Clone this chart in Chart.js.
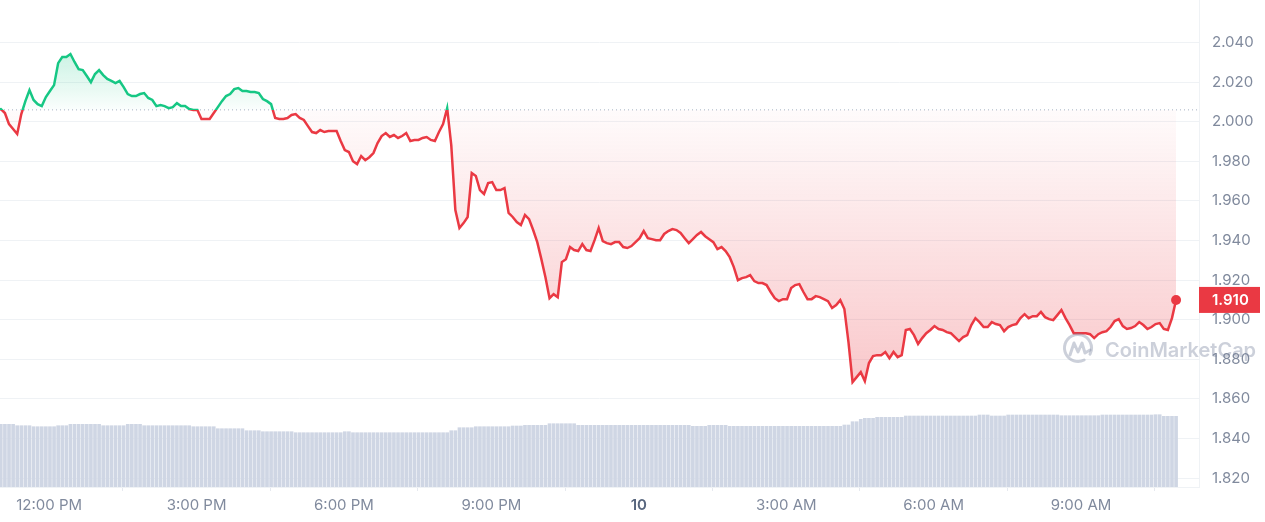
<!DOCTYPE html>
<html>
<head>
<meta charset="utf-8">
<script src="https://cdn.jsdelivr.net/npm/chart.js@4.4.1/dist/chart.umd.min.js"></script>
<style>
  html, body { margin: 0; padding: 0; background: #fff; }
  #wrap { width: 1265px; height: 522px; }
</style>
</head>
<body>
<div id="wrap"><canvas id="price"></canvas></div>
<script>
// 5 minute samples, time in minutes relative to 12:00 PM of the 9th
const startMinute = -64;
const stepMinutes = 5;

const prices = [
  2.0060, 2.0064, 2.0044, 1.9988, 1.9963, 1.9938, 2.0039, 2.0104, 2.0160, 2.0110, 2.0089, 2.0079,
  2.0125, 2.0155, 2.0185, 2.0296, 2.0327, 2.0327, 2.0342, 2.0302, 2.0266, 2.0261, 2.0231, 2.0200,
  2.0241, 2.0261, 2.0236, 2.0216, 2.0206, 2.0195, 2.0206, 2.0175, 2.0140, 2.0130, 2.0130, 2.0140,
  2.0145, 2.0120, 2.0110, 2.0079, 2.0084, 2.0079, 2.0069, 2.0074, 2.0094, 2.0079, 2.0079, 2.0064,
  2.0059, 2.0059, 2.0014, 2.0014, 2.0014, 2.0044, 2.0074, 2.0104, 2.0130, 2.0140, 2.0165, 2.0170,
  2.0155, 2.0155, 2.0150, 2.0150, 2.0145, 2.0115, 2.0104, 2.0089, 2.0019, 2.0014, 2.0014, 2.0019,
  2.0034, 2.0039, 2.0019, 2.0009, 1.9978, 1.9948, 1.9943, 1.9958, 1.9948, 1.9953, 1.9953, 1.9953,
  1.9903, 1.9857, 1.9847, 1.9801, 1.9786, 1.9827, 1.9806, 1.9821, 1.9842, 1.9892, 1.9928, 1.9943,
  1.9923, 1.9933, 1.9918, 1.9928, 1.9943, 1.9903, 1.9908, 1.9908, 1.9918, 1.9923, 1.9908, 1.9903,
  1.9948, 1.9988, 2.0069, 1.9882, 1.9554, 1.9463, 1.9488, 1.9519, 1.9741, 1.9726, 1.9655, 1.9635,
  1.9690, 1.9695, 1.9655, 1.9655, 1.9665, 1.9539, 1.9519, 1.9493, 1.9478, 1.9529, 1.9508, 1.9453,
  1.9392, 1.9306, 1.9215, 1.9109, 1.9129, 1.9114, 1.9291, 1.9306, 1.9367, 1.9352, 1.9347, 1.9382,
  1.9352, 1.9347, 1.9402, 1.9463, 1.9397, 1.9387, 1.9382, 1.9392, 1.9392, 1.9367, 1.9362, 1.9372,
  1.9392, 1.9412, 1.9448, 1.9412, 1.9407, 1.9402, 1.9402, 1.9433, 1.9448, 1.9458, 1.9453, 1.9438,
  1.9412, 1.9387, 1.9407, 1.9428, 1.9443, 1.9422, 1.9407, 1.9392, 1.9357, 1.9367, 1.9347, 1.9316,
  1.9266, 1.9200, 1.9210, 1.9215, 1.9225, 1.9195, 1.9185, 1.9185, 1.9175, 1.9140, 1.9109, 1.9094,
  1.9104, 1.9104, 1.9160, 1.9175, 1.9180, 1.9140, 1.9104, 1.9104, 1.9119, 1.9114, 1.9104, 1.9094,
  1.9059, 1.9074, 1.9099, 1.9054, 1.8887, 1.8685, 1.8710, 1.8735, 1.8690, 1.8781, 1.8816, 1.8821,
  1.8821, 1.8837, 1.8806, 1.8837, 1.8811, 1.8821, 1.8948, 1.8953, 1.8922, 1.8877, 1.8907, 1.8932,
  1.8948, 1.8968, 1.8953, 1.8948, 1.8937, 1.8932, 1.8912, 1.8892, 1.8912, 1.8922, 1.8973, 1.9008,
  1.8988, 1.8963, 1.8963, 1.8988, 1.8978, 1.8973, 1.8942, 1.8963, 1.8973, 1.8978, 1.9008, 1.9028,
  1.9008, 1.9018, 1.9018, 1.9039, 1.9013, 1.9003, 1.8998, 1.9023, 1.9049, 1.9008, 1.8973, 1.8932,
  1.8932, 1.8932, 1.8932, 1.8927, 1.8907, 1.8927, 1.8937, 1.8942, 1.8963, 1.8993, 1.9003, 1.8968,
  1.8953, 1.8958, 1.8968, 1.8988, 1.8973, 1.8953, 1.8963, 1.8978, 1.8983, 1.8953, 1.8948, 1.9008,
  1.9100
];

// volume, relative units (24h rolling, same 5 minute steps)
const volumes = [
  6.27, 6.27, 6.27, 6.27, 6.27, 6.13, 6.13, 6.13, 6.13, 6.03, 6.03, 6.03,
  6.03, 6.03, 6.03, 6.13, 6.13, 6.13, 6.27, 6.27, 6.27, 6.27, 6.27, 6.27,
  6.27, 6.27, 6.13, 6.13, 6.13, 6.13, 6.13, 6.13, 6.27, 6.27, 6.27, 6.27,
  6.13, 6.13, 6.13, 6.13, 6.13, 6.13, 6.13, 6.13, 6.13, 6.13, 6.13, 6.13,
  6.03, 6.03, 6.03, 6.03, 6.03, 6.03, 5.83, 5.83, 5.83, 5.83, 5.83, 5.83,
  5.83, 5.63, 5.63, 5.63, 5.63, 5.53, 5.53, 5.53, 5.53, 5.53, 5.53, 5.53,
  5.53, 5.43, 5.43, 5.43, 5.43, 5.43, 5.43, 5.43, 5.43, 5.43, 5.43, 5.43,
  5.43, 5.53, 5.53, 5.43, 5.43, 5.43, 5.43, 5.43, 5.43, 5.43, 5.43, 5.43,
  5.43, 5.43, 5.43, 5.43, 5.43, 5.43, 5.43, 5.43, 5.43, 5.43, 5.43, 5.43,
  5.43, 5.43, 5.43, 5.63, 5.63, 5.93, 5.93, 5.93, 5.93, 6.03, 6.03, 6.03,
  6.03, 6.03, 6.03, 6.03, 6.03, 6.03, 6.10, 6.10, 6.10, 6.17, 6.17, 6.17,
  6.17, 6.17, 6.17, 6.33, 6.33, 6.33, 6.33, 6.33, 6.33, 6.33, 6.17, 6.17,
  6.17, 6.17, 6.17, 6.17, 6.17, 6.17, 6.17, 6.17, 6.17, 6.17, 6.17, 6.17,
  6.17, 6.17, 6.17, 6.17, 6.17, 6.17, 6.17, 6.17, 6.17, 6.17, 6.17, 6.17,
  6.17, 6.17, 6.07, 6.07, 6.07, 6.07, 6.17, 6.17, 6.17, 6.17, 6.17, 6.07,
  6.07, 6.07, 6.07, 6.07, 6.07, 6.07, 6.07, 6.07, 6.07, 6.07, 6.07, 6.07,
  6.07, 6.07, 6.07, 6.07, 6.07, 6.07, 6.07, 6.07, 6.07, 6.07, 6.07, 6.07,
  6.07, 6.07, 6.07, 6.20, 6.20, 6.53, 6.53, 6.77, 6.87, 6.87, 6.87, 6.97,
  6.97, 6.97, 6.97, 6.97, 6.97, 6.97, 7.10, 7.10, 7.10, 7.10, 7.10, 7.10,
  7.10, 7.10, 7.10, 7.10, 7.10, 7.10, 7.10, 7.10, 7.10, 7.10, 7.10, 7.10,
  7.20, 7.20, 7.20, 7.10, 7.10, 7.10, 7.10, 7.20, 7.20, 7.20, 7.20, 7.20,
  7.20, 7.20, 7.20, 7.20, 7.20, 7.20, 7.20, 7.20, 7.13, 7.13, 7.13, 7.13,
  7.13, 7.13, 7.13, 7.13, 7.13, 7.13, 7.20, 7.20, 7.20, 7.20, 7.20, 7.20,
  7.20, 7.20, 7.20, 7.20, 7.20, 7.20, 7.20, 7.23, 7.23, 7.07, 7.07, 7.07,
  7.07
];

const openPrice = 2.006;
const yTicks = [1.82, 1.84, 1.86, 1.88, 1.90, 1.92, 1.94, 1.96, 1.98, 2.00, 2.02, 2.04];
const xTicks = [0, 180, 360, 540, 720, 900, 1080, 1260];
const xTickLabels = ['12:00 PM', '3:00 PM', '6:00 PM', '9:00 PM', '10', '3:00 AM', '6:00 AM', '9:00 AM'];

const GREEN = '#16c784';
const RED = '#ea3943';
const LABEL = '#808a9d';

const pricePoints = prices.map((p, i) => ({ x: startMinute + i * stepMinutes, y: p }));
const volumePoints = volumes.map((v, i) => ({ x: startMinute + i * stepMinutes, y: v }));
const xMin = -60;
const xMax = 1404;

// hard split of colour at the opening price
function lineGradient(chart) {
	const { ctx, chartArea, scales } = chart;
	if (!chartArea) return RED;
	const top = chartArea.top;
	const bottom = chartArea.bottom;
	const base = scales.y.getPixelForValue(openPrice);
	const f = Math.min(Math.max((base - top) / (bottom - top), 0), 1);
	const g = ctx.createLinearGradient(0, top, 0, bottom);
	g.addColorStop(0, GREEN);
	g.addColorStop(f, GREEN);
	g.addColorStop(f, RED);
	g.addColorStop(1, RED);
	return g;
}

function fillGradient(chart) {
	const { ctx, chartArea, scales } = chart;
	if (!chartArea) return 'rgba(234,57,67,0.1)';
	const hi = scales.y.getPixelForValue(Math.max(...prices));
	const lo = scales.y.getPixelForValue(Math.min(...prices));
	const base = scales.y.getPixelForValue(openPrice);
	const f = (base - hi) / (lo - hi);
	const g = ctx.createLinearGradient(0, hi, 0, lo);
	g.addColorStop(0, 'rgba(22,199,132,0.22)');
	g.addColorStop(f, 'rgba(22,199,132,0.02)');
	g.addColorStop(f, 'rgba(234,57,67,0.02)');
	g.addColorStop(1, 'rgba(234,57,67,0.28)');
	return g;
}

// CoinMarketCap watermark
const watermark = {
	id: 'watermark',
	afterDraw(chart) {
		const { ctx, chartArea } = chart;
		const cx = chartArea.right - 121;
		const cy = chartArea.bottom - 139;
		ctx.save();
		ctx.strokeStyle = 'rgba(120,132,158,0.38)';
		ctx.fillStyle = 'rgba(120,132,158,0.38)';
		ctx.lineWidth = 3;
		ctx.lineCap = 'round';
		ctx.lineJoin = 'round';
		ctx.beginPath();
		ctx.arc(cx, cy, 13.5, Math.PI * 0.35, Math.PI * 2.15);
		ctx.stroke();
		ctx.beginPath();
		ctx.moveTo(cx - 8, cy + 7);
		ctx.lineTo(cx - 4, cy - 5);
		ctx.lineTo(cx, cy + 4);
		ctx.lineTo(cx + 4, cy - 5);
		ctx.lineTo(cx + 7, cy + 5);
		ctx.lineTo(cx + 12, cy + 2);
		ctx.stroke();
		ctx.font = '600 20px Inter';
		ctx.textBaseline = 'middle';
		ctx.fillText('CoinMarketCap', chartArea.right - 94, chartArea.bottom - 136);
		ctx.restore();
	},
};

// current price tag on the right axis
const lastPriceBadge = {
	id: 'lastPriceBadge',
	afterDraw(chart) {
		const { ctx, chartArea, scales } = chart;
		const last = prices[prices.length - 1];
		const py = scales.y.getPixelForValue(last);
		ctx.save();
		ctx.fillStyle = RED;
		ctx.fillRect(chartArea.right, py - 13, 61, 26);
		ctx.fillStyle = '#fff';
		ctx.font = '600 15px Inter';
		ctx.textBaseline = 'middle';
		ctx.fillText(last.toFixed(3), chartArea.right + 13, py + 1);
		ctx.restore();
	},
};

let ctxPrice = document.getElementById('price').getContext('2d');
let priceChart = new Chart(ctxPrice, {
	type: 'line',
	data: {
		datasets: [
			{
				label: 'Price',
				data: pricePoints,
				order: 1,
				borderWidth: 2.5,
				tension: 0,
				borderColor: (c) => lineGradient(c.chart),
				backgroundColor: (c) => fillGradient(c.chart),
				fill: { target: { value: openPrice } },
				pointRadius: (c) => (c.dataIndex === prices.length - 1 ? 5 : 0),
				pointHoverRadius: 0,
				pointBackgroundColor: RED,
				pointBorderWidth: 0,
				yAxisID: 'y',
			},
			{
				label: 'Open',
				data: [
					{ x: xMin, y: openPrice },
					{ x: xMax, y: openPrice },
				],
				order: 2,
				borderColor: '#a7b1c2',
				borderWidth: 1,
				borderDash: [1, 3],
				pointRadius: 0,
				fill: false,
				yAxisID: 'y',
			},
			{
				type: 'bar',
				label: 'Volume',
				data: volumePoints,
				order: 3,
				backgroundColor: '#cfd6e4',
				barThickness: 3,
				yAxisID: 'yVol',
			},
		],
	},
	options: {
		responsive: true,
		maintainAspectRatio: false,
		animation: false,
		layout: { padding: 0, autoPadding: false },
		plugins: {
			legend: { display: false },
			tooltip: { enabled: false },
		},
		events: [],
		scales: {
			x: {
				type: 'linear',
				min: xMin,
				max: xMax,
				offset: false,
				afterBuildTicks: (scale) => {
					scale.ticks = xTicks.map((v) => ({ value: v }));
				},
				afterFit: (scale) => {
					scale.height = 35;
					scale.paddingLeft = 0;
					scale.paddingRight = 0;
				},
				grid: {
					drawOnChartArea: false,
					drawTicks: true,
					tickLength: 4,
					color: '#e6e9ef',
				},
				border: { display: true, color: '#eff2f5' },
				ticks: {
					autoSkip: false,
					maxRotation: 0,
					padding: 5,
					color: (c) => (c.index === 4 ? '#58667e' : LABEL),
					font: (c) => ({
						family: 'Inter',
						size: 15,
						weight: c.index === 4 ? '600' : '400',
					}),
					callback: (value, index) => xTickLabels[index],
				},
			},
			y: {
				position: 'right',
				min: 1.8155,
				max: 2.0615,
				afterBuildTicks: (scale) => {
					scale.ticks = yTicks.map((v) => ({ value: v }));
				},
				afterFit: (scale) => {
					scale.width = 66;
					scale.paddingTop = 0;
					scale.paddingBottom = 0;
				},
				grid: {
					color: '#eff2f5',
					drawTicks: false,
				},
				border: { display: true, color: '#eff2f5' },
				ticks: {
					padding: 13,
					color: LABEL,
					font: { family: 'Inter', size: 15 },
					callback: (value) => value.toFixed(3),
				},
			},
			yVol: {
				display: false,
				min: 0,
				max: 48.7,
			},
		},
	},
	plugins: [watermark, lastPriceBadge],
});
</script>
</body>
</html>
